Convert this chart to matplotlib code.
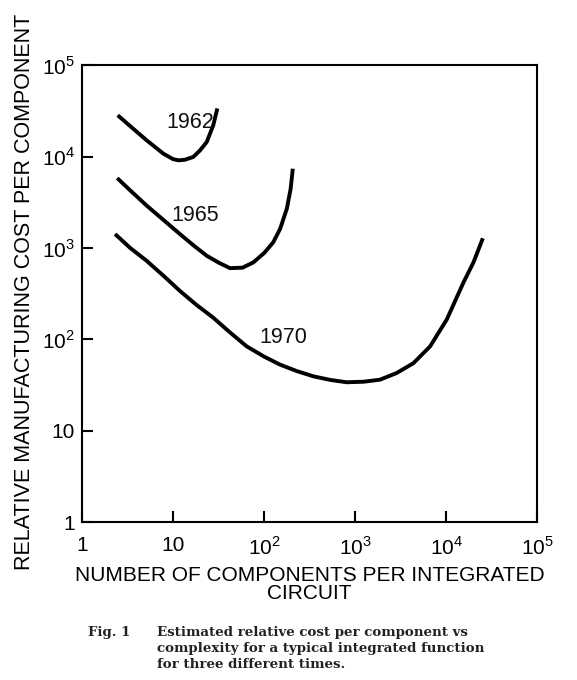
import matplotlib.pyplot as plt

# values (log-log)
x_1962 = [2.47, 3.5, 5.14, 7.83, 10.0, 11.5, 13.5, 16.7, 19.8, 23.5, 27.7, 30.7]
y_1962 = [28400, 21000, 15100, 10800, 9400, 9120, 9250, 9930, 11700, 14500, 22100, 33700]

x_1965 = [2.44, 3.5, 5.14, 8.0, 11.9, 17.0, 23.5, 32.0, 42.3, 58.0, 76.3, 100, 126, 150, 178, 196, 207]
y_1965 = [5830, 4150, 2915, 2000, 1425, 1060, 823, 690, 603, 610, 697, 880, 1153, 1617, 2690, 4450, 7380]

x_1970 = [2.31, 3.4, 5.14, 8.0, 11.9, 18.0, 27.7, 42.0, 64.5, 100, 150, 230, 348, 540, 811, 1250,
          1880, 2870, 4370, 6670, 10180, 15500, 20000, 25300]
y_1970 = [1425, 1000, 725, 490, 340, 240, 173, 120, 84, 65, 53, 45, 39.5, 36, 34, 34.5,
          36.3, 43, 55, 84, 166, 420, 700, 1280]

years = ['1962', '1965', '1970']
label_x = [15.4, 17.4, 163]
label_y = [23500, 2300, 105]

xticks = [1, 10, 100, 1000, 10000, 100000]
xtick_labels = ['1', '10', r'$10^2$', r'$10^3$', r'$10^4$', r'$10^5$']
yticks = [1, 10, 100, 1000, 10000, 100000]
ytick_labels = ['1', '10', r'$10^2$', r'$10^3$', r'$10^4$', r'$10^5$']

plt.rcParams['font.family'] = ['Liberation Sans', 'DejaVu Sans']
plt.rcParams['mathtext.fontset'] = 'custom'
plt.rcParams['mathtext.rm'] = 'Liberation Sans'

fig = plt.figure(figsize=(5.77, 6.8), dpi=100)
ax = fig.add_axes([0.142, 0.232, 0.789, 0.672])

for xs, ys in [(x_1962, y_1962), (x_1965, y_1965), (x_1970, y_1970)]:
    ax.plot(xs, ys, color='black', linewidth=2.8, solid_joinstyle='round', solid_capstyle='butt')

for txt, lx, ly in zip(years, label_x, label_y):
    ax.text(lx, ly, txt, fontsize=15.5, ha='center', va='center', color='#111111')

ax.set_xscale('log')
ax.set_yscale('log')
ax.set_xlim(1, 100000)
ax.set_ylim(1, 100000)
ax.minorticks_off()
ax.set_xticks(xticks)
ax.set_xticklabels(xtick_labels, fontsize=15)
ax.set_yticks(yticks)
ax.set_yticklabels(ytick_labels, fontsize=15)
ax.tick_params(axis='both', direction='in', length=8, width=1.5, color='black')
ax.tick_params(axis='x', pad=10)
ax.tick_params(axis='y', pad=5)
for s in ax.spines.values():
    s.set_linewidth(1.5)

ax.set_xlabel('NUMBER OF COMPONENTS PER INTEGRATED\nCIRCUIT', fontsize=15, linespacing=0.95)
ax.xaxis.set_label_coords(0.5, -0.095)
ax.set_ylabel('RELATIVE MANUFACTURING COST PER COMPONENT', fontsize=15.5)
ax.yaxis.set_label_coords(-0.102, 0.505)

cap_font = ['DejaVu Serif']
fig.text(0.1525, 0.080, 'Fig. 1', family=cap_font, fontsize=9.6, fontweight='bold', va='top', color='#222222')
fig.text(0.272, 0.080, 'Estimated relative cost per component vs\ncomplexity for a typical integrated function\nfor three different times.',
         family=cap_font, fontsize=9.6, fontweight='bold', va='top', linespacing=1.3, color='#222222')

fig.savefig('out.png', dpi=100)
